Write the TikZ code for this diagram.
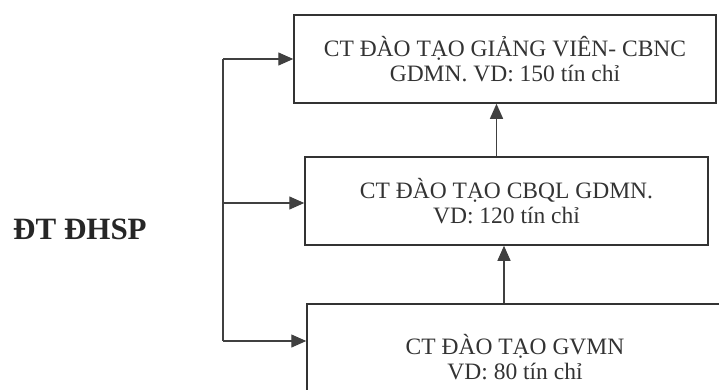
\documentclass[tikz,border=0pt]{standalone}
\usepackage{fontspec}
\setmainfont{Liberation Serif}
\usetikzlibrary{arrows.meta,positioning}

\begin{document}
\begin{tikzpicture}[x=1pt,y=-1pt,
    prog/.style={draw=black!80,line width=1.5pt,align=center,inner sep=0pt,
                 text=black!80,font=\fontsize{23.5}{25}\selectfont},
    arr/.style={draw=black!75,line width=1.3pt,-{Triangle[length=15pt,width=13pt]}},
  ]
    \useasboundingbox (0,0) rectangle (719,389);
    \clip (0,0) rectangle (719,389);

    \node[prog,minimum width=422pt,minimum height=88pt] (gv) at (505,59)
      {CT ĐÀO TẠO GIẢNG VIÊN- CBNC\\GDMN. VD: 150 tín chỉ};
    \node[prog,minimum width=403pt,minimum height=88pt] (cbql) at (506.5,201)
      {CT ĐÀO TẠO CBQL GDMN.\\VD: 120 tín chỉ};
    \node[prog,minimum width=416pt,minimum height=106pt] (gvmn) at (515,357)
      {CT ĐÀO TẠO GVMN\\VD: 80 tín chỉ};

    \node[text=black!85,inner sep=0pt,anchor=base west,
          font=\fontsize{31}{34}\selectfont\bfseries] (dhsp) at (13,239) {ĐT ĐHSP};

    % duong nhanh ben trai
    \coordinate (b1) at (223,59);
    \coordinate (b2) at (223,203);
    \coordinate (b3) at (223,341);
    \draw[draw=black!75,line width=1.3pt] (b1) -- (b3);
    \draw[arr] (b1) -- (b1 -| gv.west);
    \draw[arr] (b2) -- (b2 -| cbql.west);
    \draw[arr] (b3) -- (b3 -| gvmn.west);

    % lien thong
    \draw[arr] ([xshift=-11pt]gvmn.north) -- ([xshift=-11pt]gvmn.north |- cbql.south);
    \draw[arr] ([xshift=-10pt]cbql.north) -- ([xshift=-10pt]cbql.north |- gv.south);
  \end{tikzpicture}
\end{document}
